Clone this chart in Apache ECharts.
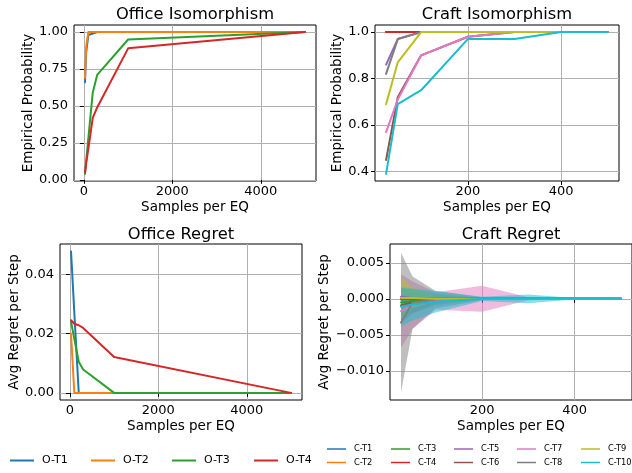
<!DOCTYPE html>
<html><head><meta charset="utf-8">
<script src="https://cdn.jsdelivr.net/npm/echarts@6/dist/echarts.min.js"></script>
<style>html,body{margin:0;padding:0;background:#fff}#c{width:632px;height:473px}</style>
</head><body><div id="c"></div>
<script>
// ---------- data ----------
const officeX = [25, 50, 100, 200, 300, 1000, 5000];
const officeNames = ['O-T1', 'O-T2', 'O-T3', 'O-T4'];
const officeIsoT1 = [0.66, 0.86, 0.98, 0.99, 1.0, 1.0, 1.0];
const officeIsoT2 = [0.69, 0.90, 1.0, 1.0, 1.0, 1.0, 1.0];
const officeIsoT3 = [0.04, 0.12, 0.28, 0.59, 0.71, 0.95, 1.0];
const officeIsoT4 = [0.05, 0.11, 0.21, 0.42, 0.49, 0.89, 1.0];
const officeRegT1 = [0.0477, 0.041, 0.027, 0.0, 0.0, 0.0, 0.0];
const officeRegT2 = [0.020, 0.0133, 0.0, 0.0, 0.0, 0.0, 0.0];
const officeRegT3 = [0.024, 0.0221, 0.0182, 0.0105, 0.0079, 0.0, 0.0];
const officeRegT4 = [0.0245, 0.0240, 0.0233, 0.0228, 0.0219, 0.0121, 0.0];

const craftX = [25, 50, 100, 200, 300, 400, 500];
const craftNames = ['C-T1','C-T2','C-T3','C-T4','C-T5','C-T6','C-T7','C-T8','C-T9','C-T10'];
const craftIsoT1 = [1, 1, 1, 1, 1, 1, 1];
const craftIsoT2 = [1, 1, 1, 1, 1, 1, 1];
const craftIsoT3 = [1, 1, 1, 1, 1, 1, 1];
const craftIsoT4 = [1, 1, 1, 1, 1, 1, 1];
const craftIsoT5 = [0.86, 0.97, 1, 1, 1, 1, 1];
const craftIsoT6 = [0.45, 0.72, 0.90, 0.98, 1, 1, 1];
const craftIsoT7 = [0.57, 0.71, 0.90, 0.98, 1, 1, 1];
const craftIsoT8 = [0.82, 0.97, 1, 1, 1, 1, 1];
const craftIsoT9 = [0.69, 0.87, 1, 1, 1, 1, 1];
const craftIsoT10 = [0.39, 0.69, 0.75, 0.97, 0.97, 1, 1];

const craftRegMeanT1 = [-0.0001, 0, 0, 0, 0, 0, 0];
const craftRegMeanT2 = [0, 0, 0, 0, 0, 0, 0];
const craftRegMeanT3 = [-0.0005, -0.0003, -0.0001, 0, 0, 0, 0];
const craftRegMeanT4 = [0, 0, 0, 0, 0, 0, 0];
const craftRegMeanT5 = [0.0003, 0.0001, 0, 0, 0, 0, 0];
const craftRegMeanT6 = [-0.0009, -0.0005, -0.0001, 0, 0, 0, 0];
const craftRegMeanT7 = [-0.0017, -0.0009, -0.0003, 0, 0, 0, 0];
const craftRegMeanT8 = [-0.0033, -0.0005, -0.0001, 0, 0, 0, 0];
const craftRegMeanT9 = [0.0001, 0.0001, 0, 0, 0, 0, 0];
const craftRegMeanT10 = [-0.0011, -0.0008, -0.0004, 0, 0, 0, 0];

const craftRegStdT1 = [0.0008, 0.0004, 0.0001, 0, 0, 0, 0];
const craftRegStdT2 = [0.0004, 0.0002, 0, 0, 0, 0, 0];
const craftRegStdT3 = [0.0019, 0.0017, 0.0008, 0.0001, 0, 0, 0];
const craftRegStdT4 = [0.0006, 0.0003, 0.0001, 0, 0, 0, 0];
const craftRegStdT5 = [0.0012, 0.0006, 0.0002, 0, 0, 0, 0];
const craftRegStdT6 = [0.0025, 0.0015, 0.0005, 0, 0, 0, 0];
const craftRegStdT7 = [0.0051, 0.0033, 0.0012, 0.0018, 0.0002, 0, 0];
const craftRegStdT8 = [0.0097, 0.0036, 0.0012, 0.0002, 0, 0, 0];
const craftRegStdT9 = [0.0029, 0.0014, 0.0004, 0, 0, 0, 0];
const craftRegStdT10 = [0.0027, 0.0022, 0.0015, 0.0003, 0.0006, 0.0001, 0];

const officeXTicks = [0, 2000, 4000];
const craftXTicks = [200, 400];
const officeIsoYTicks = [0, 0.25, 0.5, 0.75, 1.0];
const craftIsoYTicks = [0.4, 0.6, 0.8, 1.0];
const officeRegYTicks = [0, 0.02, 0.04];
const craftRegYTicks = [-0.010, -0.005, 0, 0.005];

// ---------- build ----------
const colors = ['#1f77b4','#ff7f0e','#2ca02c','#d62728','#9467bd','#8c564b','#e377c2','#7f7f7f','#bcbd22','#17becf'];
const FONT = 'DejaVu Sans';
const officeIso = [officeIsoT1, officeIsoT2, officeIsoT3, officeIsoT4];
const officeReg = [officeRegT1, officeRegT2, officeRegT3, officeRegT4];
const craftIso = [craftIsoT1, craftIsoT2, craftIsoT3, craftIsoT4, craftIsoT5, craftIsoT6, craftIsoT7, craftIsoT8, craftIsoT9, craftIsoT10];
const craftMean = [craftRegMeanT1, craftRegMeanT2, craftRegMeanT3, craftRegMeanT4, craftRegMeanT5, craftRegMeanT6, craftRegMeanT7, craftRegMeanT8, craftRegMeanT9, craftRegMeanT10];
const craftStd = [craftRegStdT1, craftRegStdT2, craftRegStdT3, craftRegStdT4, craftRegStdT5, craftRegStdT6, craftRegStdT7, craftRegStdT8, craftRegStdT9, craftRegStdT10];

const grids = [
  {left: 74, top: 25, width: 242, height: 156},
  {left: 375, top: 25, width: 244, height: 156},
  {left: 60, top: 244, width: 242, height: 156},
  {left: 390, top: 244, width: 244, height: 156}
].map(g => Object.assign(g, {show: true, borderColor: '#000', borderWidth: 1, backgroundColor: 'transparent', containLabel: false}));

function minusFmt(v, d) {
  const s = Math.abs(v).toFixed(d);
  return (v < -1e-12 ? '\u2212' : '') + s;
}
function xAxis(gi, min, max, ticks, withName, gap) {
  return {
    type: 'value', gridIndex: gi, min: min, max: max,
    name: withName ? 'Samples per EQ' : '', nameLocation: 'middle', nameGap: gap,
    nameTextStyle: {fontFamily: FONT, fontSize: 13.5, color: '#000'},
    axisLine: {show: false},
    axisTick: {show: true, inside: false, length: 4, customValues: ticks, lineStyle: {color: '#000'}},
    axisLabel: {show: true, customValues: ticks, margin: 4, fontFamily: FONT, fontSize: 13, color: '#000', formatter: v => String(v)},
    splitLine: {show: true, lineStyle: {color: '#b0b0b0', width: 1}}
  };
}
function yAxis(gi, min, max, ticks, name, gap, dec) {
  return {
    type: 'value', gridIndex: gi, min: min, max: max,
    name: name, nameLocation: 'middle', nameGap: gap, nameRotate: 90,
    nameTextStyle: {fontFamily: FONT, fontSize: 13.5, color: '#000'},
    axisLine: {show: false},
    axisTick: {show: true, inside: false, length: 4, customValues: ticks, lineStyle: {color: '#000'}},
    axisLabel: {show: true, customValues: ticks, margin: 6, fontFamily: FONT, fontSize: 13, color: '#000', formatter: v => minusFmt(v, dec)},
    splitLine: {show: true, lineStyle: {color: '#b0b0b0', width: 1}}
  };
}

const xAxes = [
  xAxis(0, -224, 5249, officeXTicks, true, 19),
  xAxis(1, 1.25, 523.75, craftXTicks, true, 19),
  xAxis(2, -224, 5249, officeXTicks, true, 19),
  xAxis(3, 1.25, 523.75, craftXTicks, true, 19)
];
const yAxes = [
  yAxis(0, -0.008, 1.048, officeIsoYTicks, 'Empirical Probability', 38, 2),
  yAxis(1, 0.3595, 1.0305, craftIsoYTicks, 'Empirical Probability', 28, 1),
  yAxis(2, -0.0024, 0.0502, officeRegYTicks, 'Avg Regret per Step', 38, 2),
  yAxis(3, -0.01403, 0.0076, craftRegYTicks, 'Avg Regret per Step', 56, 3)
];

function lineSeries(name, color, xs, ys, gi) {
  return {
    type: 'line', name: name, xAxisIndex: gi, yAxisIndex: gi, color: color,
    data: xs.map((x, i) => [x, ys[i]]),
    symbol: 'none', showSymbol: false, clip: true, animation: false,
    lineStyle: {width: 2, color: color, cap: 'round', join: 'round'}
  };
}
function hexA(hex, a) {
  const r = parseInt(hex.slice(1,3),16), g = parseInt(hex.slice(3,5),16), b = parseInt(hex.slice(5,7),16);
  return 'rgba(' + r + ',' + g + ',' + b + ',' + a + ')';
}
function bandSeries(name, color, mean, std, gi) {
  return {
    type: 'custom', name: name + ' band', xAxisIndex: gi, yAxisIndex: gi, clip: true, silent: true, animation: false,
    data: [[craftX[0], mean[0]]],
    renderItem: function (params, api) {
      const up = craftX.map((x, i) => api.coord([x, mean[i] + std[i]]));
      const lo = craftX.map((x, i) => api.coord([x, mean[i] - std[i]])).reverse();
      return {type: 'polygon', shape: {points: up.concat(lo)}, style: {fill: hexA(color, 0.5), stroke: null}};
    }
  };
}

const series = [];
officeNames.forEach((n, i) => series.push(lineSeries(n, colors[i], officeX, officeIso[i], 0)));
craftNames.forEach((n, i) => series.push(lineSeries(n, colors[i], craftX, craftIso[i], 1)));
officeNames.forEach((n, i) => series.push(lineSeries(n, colors[i], officeX, officeReg[i], 2)));
craftNames.forEach((n, i) => {
  series.push(bandSeries(n, colors[i], craftMean[i], craftStd[i], 3));
  series.push(lineSeries(n, colors[i], craftX, craftMean[i], 3));
});

const legends = [];
const oLeft = [10, 91, 172, 254];
officeNames.forEach((n, i) => legends.push({
  data: [n], left: oLeft[i], top: 455, orient: 'horizontal', selectedMode: false,
  icon: 'rect', itemWidth: 24, itemHeight: 2, padding: 0,
  textStyle: {fontFamily: FONT, fontSize: 11, color: '#000', padding: [0, 0, 0, 3]}
}));
const cLeft = [327, 391, 454, 517, 581];
const cTop = [445, 458.5];
craftNames.forEach((n, i) => legends.push({
  data: [n], left: cLeft[Math.floor(i / 2)], top: cTop[i % 2], orient: 'horizontal', selectedMode: false,
  icon: 'rect', itemWidth: 19, itemHeight: 1.5, padding: 0,
  textStyle: {fontFamily: FONT, fontSize: 8.3, color: '#000', padding: [0, 0, 0, 3]}
}));

const titles = [
  ['Office Isomorphism', 195, 15],
  ['Craft Isomorphism', 497, 15],
  ['Office Regret', 181, 235],
  ['Craft Regret', 511, 235]
];
const graphic = titles.map(t => ({
  type: 'text', x: t[1], y: t[2], silent: true,
  style: {text: t[0], fill: '#000', font: '16.3px "' + FONT + '"', textAlign: 'center', textVerticalAlign: 'middle'}
}));

const chart = echarts.init(document.getElementById('c'), null, {renderer: 'canvas'});
chart.setOption({
  animation: false,
  backgroundColor: '#fff',
  textStyle: {fontFamily: FONT},
  grid: grids,
  xAxis: xAxes,
  yAxis: yAxes,
  series: series,
  legend: legends,
  graphic: graphic
});
</script></body></html>
